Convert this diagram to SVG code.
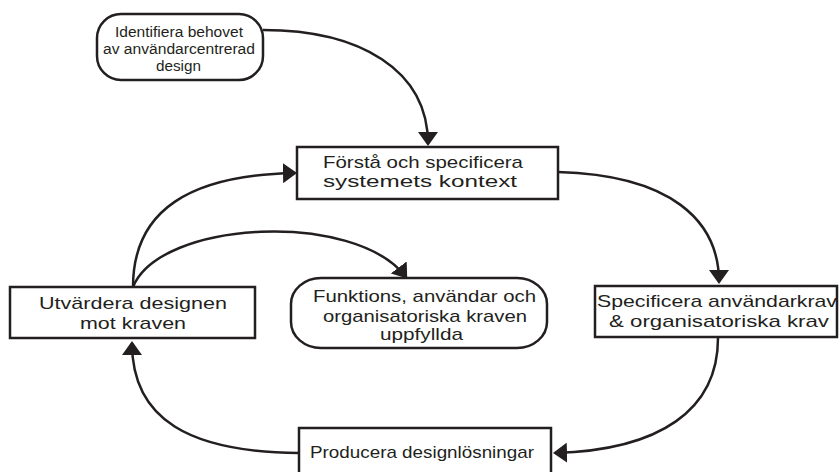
<svg xmlns="http://www.w3.org/2000/svg" width="839" height="472" viewBox="0 0 839 472">
<style>
.box{fill:#fff;stroke:#231f20;stroke-width:2.5}
.t{font-family:"Liberation Sans",Arial,sans-serif;font-size:17px;fill:#231f20}
.s{font-size:14px}
.c{fill:none;stroke:#231f20;stroke-width:2.5;marker-end:url(#ah)}
</style>
<defs>
<marker id="ah" viewBox="0 0 14 20" refX="12" refY="10" markerWidth="14" markerHeight="20" markerUnits="userSpaceOnUse" orient="auto">
<path d="M0,0 L14,10 L0,20 z" fill="#231f20"/>
</marker>
</defs>
<rect width="839" height="472" fill="#fff"/>
<g id="connectors">
<path class="c" d="M263,30 C360,30 428,70 428,144"/>
<path class="c" d="M558,172 C670,175 719,220 719,282"/>
<path class="c" d="M718,338 C718,410 660,450 555,453"/>
<path class="c" d="M299,453 C190,452 132,420 132,343"/>
<path class="c" d="M133,287 C133,210 190,175 295,173"/>
<path class="c" d="M133,287 C160,220 355,210 406,277"/>
</g>
<g id="n-identifiera">
<rect class="box" x="97" y="14" width="166" height="66" rx="24"/>
<text class="t s" x="115" y="37" textLength="128" lengthAdjust="spacingAndGlyphs">Identifiera behovet</text>
<text class="t s" x="103" y="54" textLength="152" lengthAdjust="spacingAndGlyphs">av användarcentrerad</text>
<text class="t s" x="156" y="71" textLength="45" lengthAdjust="spacingAndGlyphs">design</text>
</g>
<g id="n-forsta">
<rect class="box" x="297" y="147" width="261" height="52"/>
<text class="t" x="323" y="168" textLength="200" lengthAdjust="spacingAndGlyphs">Förstå och specificera</text>
<text class="t" x="323" y="187" textLength="194" lengthAdjust="spacingAndGlyphs">systemets kontext</text>
</g>
<g id="n-specificera">
<rect class="box" x="595" y="286" width="242" height="51"/>
<text class="t" x="597" y="307" textLength="240" lengthAdjust="spacingAndGlyphs">Specificera användarkrav</text>
<text class="t" x="609" y="327" textLength="220" lengthAdjust="spacingAndGlyphs">&amp; organisatoriska krav</text>
</g>
<g id="n-producera">
<rect class="box" x="299" y="428" width="252" height="60"/>
<text class="t" x="310" y="458" textLength="224" lengthAdjust="spacingAndGlyphs">Producera designlösningar</text>
</g>
<g id="n-utvardera">
<rect class="box" x="10" y="287" width="245" height="51"/>
<text class="t" x="39" y="309" textLength="188" lengthAdjust="spacingAndGlyphs">Utvärdera designen</text>
<text class="t" x="80" y="329" textLength="106" lengthAdjust="spacingAndGlyphs">mot kraven</text>
</g>
<g id="n-funktions">
<rect class="box" x="291" y="278" width="256" height="70" rx="30" ry="26"/>
<text class="t" x="313" y="302" textLength="223" lengthAdjust="spacingAndGlyphs">Funktions, användar och</text>
<text class="t" x="323" y="322" textLength="204" lengthAdjust="spacingAndGlyphs">organisatoriska kraven</text>
<text class="t" x="380" y="340" textLength="83" lengthAdjust="spacingAndGlyphs">uppfyllda</text>
</g>
</svg>
